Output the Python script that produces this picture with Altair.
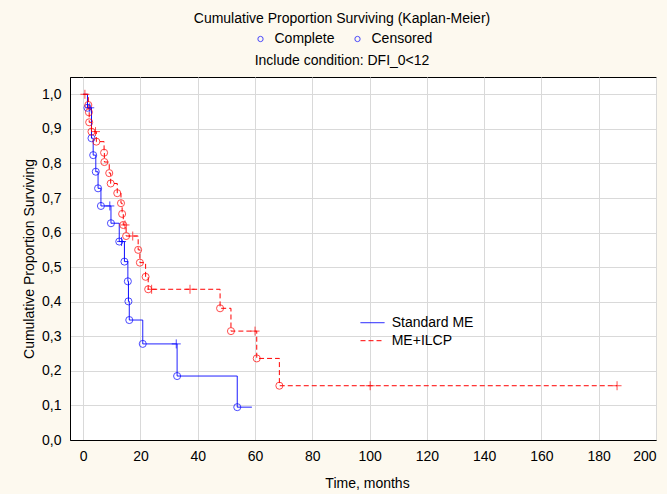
import altair as alt
import pandas as pd

FONT = "Liberation Sans"
FS = 14

groups = ["Standard ME", "ME+ILCP"]
colors = ["#0000ff", "#ff0000"]
dashes = [[1, 0], [5, 3]]

x_ticks = [0, 20, 40, 60, 80, 100, 120, 140, 160, 180, 200]
y_ticks = [0.0, 0.1, 0.2, 0.3, 0.4, 0.5, 0.6, 0.7, 0.8, 0.9, 1.0]

# Standard ME (complete events = circles, censored = plus)
std_event_t = [1.5, 2.9, 3.5, 4.4, 5.2, 6.2, 9.7, 12.6, 14.4, 15.6, 15.8, 16.1, 20.8, 32.8, 53.8]
std_event_s = [0.961, 0.873, 0.824, 0.776, 0.728, 0.677, 0.627, 0.574, 0.516, 0.459, 0.401, 0.347, 0.278, 0.185, 0.095]
std_cens_t = [2.3, 9.3, 13.4, 32.5]
std_cens_s = [0.961, 0.677, 0.574, 0.278]
std_end_t = 58.9

# ME+ILCP
ilcp_event_t = [1.8, 2.0, 2.1, 2.9, 4.6, 7.3, 7.4, 9.1, 9.6, 11.9, 13.2, 13.6, 14.0, 15.0,
                19.2, 19.8, 21.8, 22.7, 47.8, 51.6, 60.6, 68.5]
ilcp_event_s = [0.969, 0.948, 0.919, 0.892, 0.863, 0.831, 0.804, 0.772, 0.742, 0.714, 0.685, 0.654,
                0.622, 0.590, 0.550, 0.513, 0.472, 0.436, 0.381, 0.315, 0.236, 0.157]
ilcp_cens_t = [0.6, 4.3, 14.6, 17.3, 23.9, 37.3, 60.0, 100.2, 186.4]
ilcp_cens_s = [1.0, 0.892, 0.622, 0.590, 0.436, 0.436, 0.315, 0.157, 0.157]
ilcp_end_t = 186.4

legend_kinds = ["Complete", "Censored"]

series = [
    ("Standard ME", std_event_t, std_event_s, std_cens_t, std_cens_s, std_end_t),
    ("ME+ILCP", ilcp_event_t, ilcp_event_s, ilcp_cens_t, ilcp_cens_s, ilcp_end_t),
]

line_rows, ev_rows, ce_rows = [], [], []
for g, et, es, ct, cs, end in series:
    line_rows.append({"group": g, "t": 0.0, "s": 1.0})
    for t, s in zip(et, es):
        line_rows.append({"group": g, "t": t, "s": s})
        ev_rows.append({"group": g, "t": t, "s": s, "kind": "Complete"})
    line_rows.append({"group": g, "t": end, "s": es[-1]})
    for t, s in zip(ct, cs):
        ce_rows.append({"group": g, "t": t, "s": s, "kind": "Censored"})

line_df = pd.DataFrame(line_rows)
ev_df = pd.DataFrame(ev_rows)
ce_df = pd.DataFrame(ce_rows)

plus_path = "M-1,0L1,0M0,-1L0,1"

x_enc = alt.X(
    "t:Q",
    scale=alt.Scale(domain=[-4.6, 200], nice=False, zero=False),
    axis=alt.Axis(values=x_ticks, tickCount=30, format="d", title="Time, months", labelPadding=9,
                  minExtent=24, maxExtent=24, titlePadding=12, titleX=297, labelOverlap=False),
)
y_enc = alt.Y(
    "s:Q",
    scale=alt.Scale(domain=[0, 1.05], nice=False, zero=False),
    axis=alt.Axis(values=y_ticks, tickCount=30,
                  labelExpr="replace(format(datum.value, '.1f'), '.', ',')",
                  title="Cumulative Proportion Surviving", labelPadding=9,
                  minExtent=31, maxExtent=31, titlePadding=3, labelOverlap=False),
)

line_legend = alt.Legend(
    title=None, orient="none", legendX=295.5, legendY=238.7, direction="vertical",
    symbolType="M-2,0L2,0", symbolSize=144, symbolStrokeWidth=1, labelOffset=12.2,
    rowPadding=4, padding=0, labelFontSize=FS, labelFont=FONT, labelColor="black",
)

lines = alt.Chart(line_df).mark_line(interpolate="step-after", strokeWidth=1).encode(
    x=x_enc,
    y=y_enc,
    color=alt.Color("group:N", scale=alt.Scale(domain=groups, range=colors), legend=line_legend),
    strokeDash=alt.StrokeDash("group:N", scale=alt.Scale(domain=groups, range=dashes), legend=line_legend),
    detail="group:N",
)

kind_legend = alt.Legend(
    title=None, orient="none", legendX=183.5, legendY=-45, direction="horizontal",
    symbolType="circle", symbolSize=28, symbolStrokeColor="#0000ff", symbolFillColor="transparent",
    symbolStrokeWidth=1, labelOffset=7, columnPadding=16, padding=0,
    labelFontSize=FS, labelFont=FONT, labelColor="black",
)

events = alt.Chart(ev_df).mark_point(filled=False, size=50, strokeWidth=1).encode(
    x="t:Q",
    y="s:Q",
    stroke=alt.Stroke("group:N", scale=alt.Scale(domain=groups, range=colors), legend=None),
    shape=alt.Shape("kind:N", scale=alt.Scale(domain=legend_kinds, range=["circle", "circle"]),
                    legend=kind_legend),
)

censors = alt.Chart(ce_df).mark_point(filled=False, size=81, strokeWidth=1, shape=plus_path).encode(
    x="t:Q",
    y="s:Q",
    stroke=alt.Stroke("group:N", scale=alt.Scale(domain=groups, range=colors), legend=None),
)

chart = alt.layer(lines, events, censors).properties(
    width=586,
    height=363,
    autosize=alt.AutoSizeParams(type="none"),
    padding={"left": 70, "top": 77, "right": 11, "bottom": 54},
    background="#fdf9ef",
    title=alt.Title(
        text=["Cumulative Proportion Surviving (Kaplan-Meier)", "Include condition: DFI_0<12"],
        fontSize=FS, fontWeight="normal", font=FONT, color="black", lineHeight=42,
        anchor="middle", frame="group", dx=-21, dy=36, offset=0,
    ),
).configure_view(
    fill="white", stroke="black", strokeWidth=1,
).configure_axis(
    labelFont=FONT, labelFontSize=FS, labelColor="black",
    titleFont=FONT, titleFontSize=FS, titleFontWeight="normal", titleColor="black",
    grid=True, gridColor="#d9d9d9", gridWidth=1, ticks=False,
    domain=True, domainColor="black", domainWidth=1,
).configure_legend(
    symbolBaseStrokeColor="#0000ff", symbolBaseFillColor="transparent",
)

chart.save("out.html", embed_options={"renderer": "svg", "actions": False})
